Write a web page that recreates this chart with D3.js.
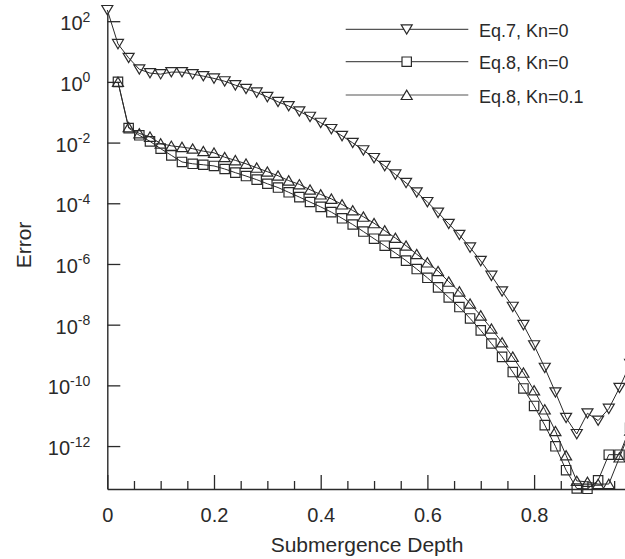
<!DOCTYPE html>
<html><head><meta charset="utf-8">
<script src="https://cdn.jsdelivr.net/npm/d3@7"></script>
<style>html,body{margin:0;padding:0;background:#fff;} svg{display:block;font-family:"Liberation Sans",Arial,Helvetica,sans-serif;}</style>
</head><body><svg id="chart" width="625" height="559"></svg>
<script>
// ---- data ----
const depthEq7 = [0,0.02,0.04,0.06,0.08,0.10,0.12,0.14,0.16,0.18,0.20,0.22,0.24,0.26,0.28,0.30,0.32,0.34,0.36,0.38,0.40,0.42,0.44,0.46,0.48,0.50,0.52,0.54,0.56,0.58,0.60,0.62,0.64,0.66,0.68,0.70,0.72,0.74,0.76,0.78,0.80,0.82,0.84,0.86,0.88,0.90,0.92,0.94,0.96,0.98];
const eq7Kn0 = [234,17.8,6.2,2.6,1.95,1.8,2.1,2.1,1.8,1.55,1.3,1.05,0.78,0.59,0.45,0.32,0.22,0.16,0.107,0.071,0.045,0.028,0.0166,0.0098,0.0056,0.0031,0.0017,8.9e-4,4.7e-4,2.3e-4,1.1e-4,4.9e-5,2.1e-5,9.1e-6,3.5e-6,1.26e-6,4.1e-7,1.26e-7,3.9e-8,9.8e-9,2.1e-9,3.8e-10,5.9e-11,8.5e-12,2.5e-12,1.2e-11,6.9e-12,1.7e-11,8.3e-11,5.1e-10];
const depthEq8 = [0.02,0.04,0.06,0.08,0.10,0.12,0.14,0.16,0.18,0.20,0.22,0.24,0.26,0.28,0.30,0.32,0.34,0.36,0.38,0.40,0.42,0.44,0.46,0.48,0.50,0.52,0.54,0.56,0.58,0.60,0.62,0.64,0.66,0.68,0.70,0.72,0.74,0.76,0.78,0.80,0.82,0.84,0.86,0.88,0.90,0.92,0.94,0.96,0.98];
const eq8Kn0 = [1.0,0.030,0.0174,0.011,0.0063,0.0038,0.0023,0.0020,0.00186,0.0017,0.00135,0.00102,7.9e-4,6.0e-4,4.4e-4,3.3e-4,2.3e-4,1.6e-4,1.1e-4,7.6e-5,5.1e-5,3.2e-5,2.0e-5,1.17e-5,6.8e-6,4.0e-6,2.3e-6,1.29e-6,6.8e-7,3.5e-7,1.7e-7,7.9e-8,3.8e-8,1.6e-8,6.5e-9,2.4e-9,8.7e-10,2.75e-10,7.9e-11,2.1e-11,4.9e-12,9.8e-13,1.6e-13,4.0e-14,3.9e-14,7.4e-14,5.2e-13,5.2e-13,4.0e-12];
const eq8Kn01 = [1.0,0.032,0.020,0.0155,0.0093,0.0078,0.0071,0.0063,0.0052,0.0046,0.0033,0.0026,0.0020,0.00148,0.0011,8.1e-4,5.6e-4,4.2e-4,2.8e-4,1.95e-4,1.4e-4,9.1e-5,5.8e-5,3.6e-5,2.2e-5,1.26e-5,7.2e-6,4.0e-6,2.1e-6,1.12e-6,5.8e-7,2.6e-7,1.23e-7,4.9e-8,2.0e-8,7.4e-9,2.6e-9,8.7e-10,2.6e-10,6.8e-11,1.6e-11,3.1e-12,4.9e-13,7.1e-14,6.6e-14,5.6e-14,5.6e-14,4.2e-13,3.2e-12];
const seriesNames = ["Eq.7, Kn=0","Eq.8, Kn=0","Eq.8, Kn=0.1"];
const xTicks = [0,0.2,0.4,0.6,0.8];
const xMinorTicks = [0.05,0.1,0.15,0.25,0.3,0.35,0.45,0.5,0.55,0.65,0.7,0.75,0.85,0.9,0.95];
const yTicks = [1e2,1e0,1e-2,1e-4,1e-6,1e-8,1e-10,1e-12];
const xTitle = "Submergence Depth";
const yTitle = "Error";

// ---- layout ----
const svg = d3.select("#chart");
const ink = "#2a2a2a";
const x = d3.scaleLinear().domain([0,1]).range([107.3, 640.8]);
const y = d3.scaleLog().domain([Math.pow(10,-13.415), Math.pow(10,2.27)]).range([489, 13]);

// y axis
const yAxis = svg.append("g").attr("transform", `translate(${x(0)},0)`)
  .call(d3.axisLeft(y).tickValues(yTicks).tickSizeInner(-13).tickSizeOuter(0).tickPadding(17).tickFormat(""));
yAxis.select(".domain").attr("stroke", ink).attr("stroke-width", 1.4);
yAxis.selectAll(".tick line").attr("stroke", ink).attr("stroke-width", 1.3);
yAxis.selectAll(".tick text").each(function(d){
  const t = d3.select(this);
  const e = Math.round(Math.log10(d));
  t.text(null).attr("font-size", 20).attr("fill", ink).attr("dy", null).attr("y", 8.5).attr("font-family", null);
  t.append("tspan").text("10");
  t.append("tspan").attr("font-size", 14).attr("dy", -8.5).text(String(e));
});

// x axis minor
const xMinor = svg.append("g").attr("transform", `translate(0,489)`)
  .call(d3.axisBottom(x).tickValues(xMinorTicks).tickSizeInner(-8).tickSizeOuter(0).tickFormat(""));
xMinor.select(".domain").remove();
xMinor.selectAll(".tick line").attr("stroke", ink).attr("stroke-width", 1.3);

// x axis major
const xAxis = svg.append("g").attr("transform", `translate(0,489)`)
  .call(d3.axisBottom(x).tickValues(xTicks).tickSizeInner(-14).tickSizeOuter(0).tickPadding(18.5).tickFormat(d => d === 0 ? "0" : d3.format(".1f")(d)));
xAxis.select(".domain").attr("stroke", ink).attr("stroke-width", 1.4);
xAxis.selectAll(".tick line").attr("stroke", ink).attr("stroke-width", 1.3);
xAxis.selectAll(".tick text").attr("font-size", 20).attr("fill", ink).attr("font-family", null);

// titles
svg.append("text").attr("x", 367).attr("y", 552).attr("text-anchor", "middle")
  .attr("font-size", 21).attr("fill", ink).text(xTitle);
svg.append("text").attr("transform", "translate(31,245) rotate(-90)").attr("text-anchor", "middle")
  .attr("font-size", 21).attr("fill", ink).text(yTitle);

// markers
const markerPaths = [
  "M-5.5,-4.5L5.5,-4.5L0,4.8Z",
  "M-4.7,-4.7H4.7V4.7H-4.7Z",
  "M-5.5,4.5L5.5,4.5L0,-4.8Z"
];
const series = [
  {xs: depthEq7, ys: eq7Kn0},
  {xs: depthEq8, ys: eq8Kn0},
  {xs: depthEq8, ys: eq8Kn01}
];
const line = d3.line().x(d => x(d[0])).y(d => y(d[1]));
const plot = svg.append("g");
series.forEach((s, i) => {
  const pts = s.xs.map((v, k) => [v, s.ys[k]]);
  plot.append("path").attr("d", line(pts)).attr("fill", "none").attr("stroke", ink).attr("stroke-width", 1);
  plot.selectAll(null).data(pts).enter().append("path")
    .attr("d", markerPaths[i]).attr("transform", d => `translate(${x(d[0])},${y(d[1])})`)
    .attr("fill", "none").attr("stroke", ink).attr("stroke-width", 1.2);
});

// legend
const legY = [29.3, 61.7, 95];
const legend = svg.append("g");
seriesNames.forEach((name, i) => {
  legend.append("line").attr("x1", 345.7).attr("x2", 468.3).attr("y1", legY[i]).attr("y2", legY[i])
    .attr("stroke", "#555").attr("stroke-width", 1.2);
  legend.append("path").attr("d", markerPaths[i]).attr("transform", `translate(406.7,${legY[i]})`)
    .attr("fill", "#fff").attr("stroke", ink).attr("stroke-width", 1.2);
  legend.append("text").attr("x", 479).attr("y", legY[i] + 7.5).attr("font-size", 18).attr("fill", ink).text(name);
});
</script></body></html>
